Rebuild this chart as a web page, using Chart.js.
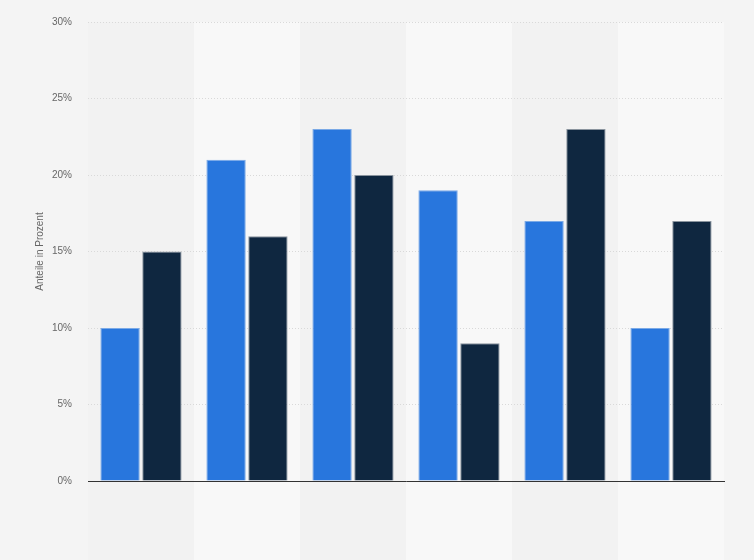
<!DOCTYPE html>
<html>
<head>
<meta charset="utf-8">
<script src="https://cdn.jsdelivr.net/npm/chart.js@4"></script>
<style>
  body { margin: 0; background: #f4f4f4; }
  #wrap { width: 754px; height: 560px; }
</style>
</head>
<body>
<div id="wrap"><canvas id="chart"></canvas></div>
<script>
// Daten
const categories = ['', '', '', '', '', ''];
const seriesBlue = [10, 21, 23, 19, 17, 10];
const seriesDark = [15, 16, 20, 9, 23, 17];
const yTicks = [0, 5, 10, 15, 20, 25, 30];

// helle/dunkle streifen hinter den kategorien
const bandPlugin = {
  id: 'bands',
  beforeDraw(chart) {
    const c = chart.ctx;
    const x = chart.scales.x;
    const area = chart.chartArea;
    const w = (area.right - area.left) / categories.length;
    c.save();
    categories.forEach((_, i) => {
      const mid = x.getPixelForValue(i);
      c.fillStyle = i % 2 ? '#f8f8f8' : '#f2f2f2';
      c.fillRect(mid - w / 2, area.top, w, chart.height - area.top);
    });
    c.restore();
  }
};

new Chart(document.getElementById('chart'), {
  type: 'bar',
  data: {
    labels: categories,
    datasets: [
      { data: seriesBlue, backgroundColor: '#2876dd', borderColor: '#7aa9e6', borderWidth: 1 },
      { data: seriesDark, backgroundColor: '#0f2740', borderColor: '#8a949e', borderWidth: 1 }
    ]
  },
  plugins: [bandPlugin],
  options: {
    responsive: true,
    maintainAspectRatio: false,
    animation: false,
    layout: { padding: { top: 17, right: 30, left: 0, bottom: 0 } },
    categoryPercentage: 0.79,
    barPercentage: 0.94,
    plugins: {
      legend: { display: false },
      tooltip: { enabled: false }
    },
    scales: {
      x: {
        grid: { display: false },
        ticks: { display: false },
        border: { display: true, color: '#333', width: 1 },
        afterFit(scale) { scale.height = 79; }
      },
      y: {
        min: 0,
        max: 30,
        afterBuildTicks(scale) { scale.ticks = yTicks.map(v => ({ value: v })); },
        afterFit(scale) { scale.width = 88; },
        grid: { color: '#d9d9d9', drawTicks: false },
        border: { display: false, dash: [1, 2] },
        ticks: {
          padding: 16,
          color: '#666',
          font: { family: 'Liberation Sans', size: 10 },
          callback: v => v + '%'
        },
        title: {
          display: true,
          text: 'Anteile in Prozent',
          color: '#666',
          font: { family: 'Liberation Sans', size: 10 },
          padding: { top: 34, bottom: 0 }
        }
      }
    }
  }
});
</script>
</body>
</html>
